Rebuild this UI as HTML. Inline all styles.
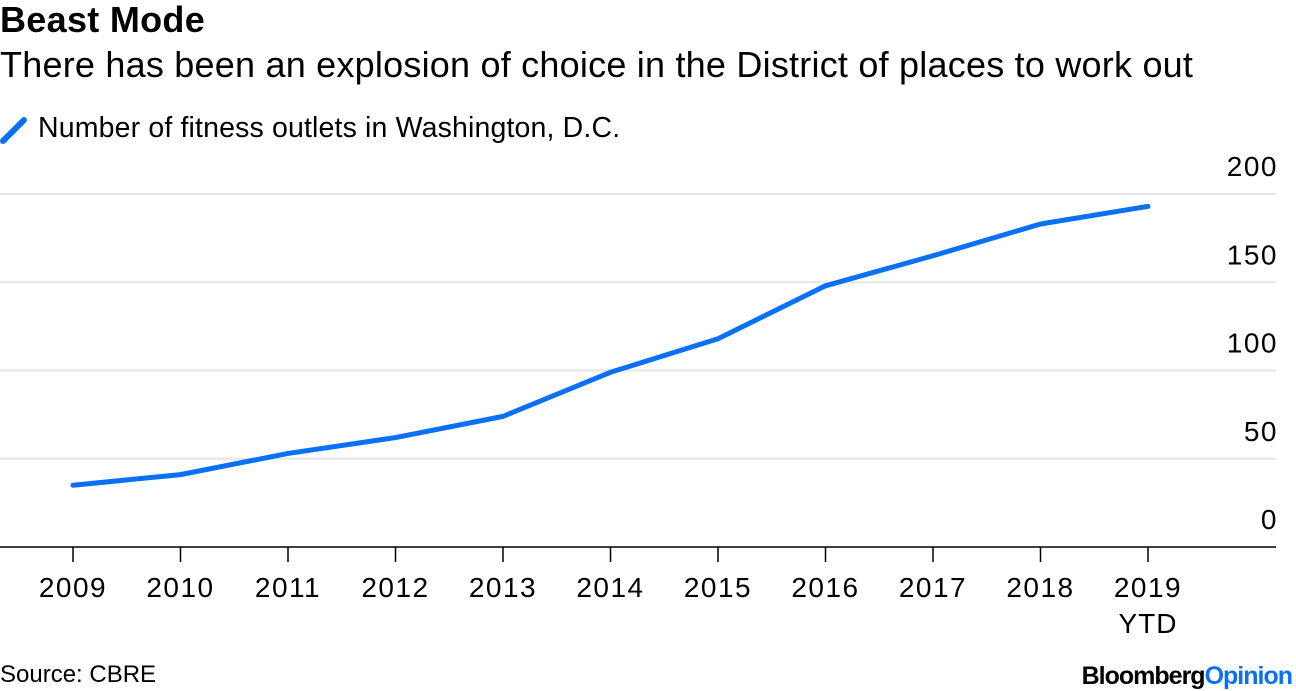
<!DOCTYPE html>
<html><head><meta charset="utf-8"><style>
body{margin:0;width:1296px;height:690px;background:#fff;font-family:"Liberation Sans",sans-serif;overflow:hidden;position:relative}
.t{position:absolute;white-space:nowrap;color:#000}
</style></head><body>
<div class="t" style="left:0;top:-1px;font-size:36px;font-weight:bold;letter-spacing:0.3px">Beast Mode</div>
<div class="t" style="left:0;top:44px;font-size:36px;letter-spacing:0.22px">There has been an explosion of choice in the District of places to work out</div>
<div class="t" style="left:0;top:112px;font-size:28.5px;letter-spacing:0.15px">
<svg width="30" height="30" style="position:absolute;left:0;top:3px"><line x1="3" y1="26" x2="24" y2="5" stroke="#0a70f5" stroke-width="6" stroke-linecap="round"/></svg>
<span style="margin-left:38px">Number of fitness outlets in Washington, D.C.</span></div>
<svg id="c" width="1296" height="690" style="position:absolute;left:0;top:0"></svg>
<div class="t" style="left:0;top:661px;font-size:24px">Source: CBRE</div>
<div class="t" style="right:4px;top:662px;font-size:25px;font-weight:bold;letter-spacing:-1px">Bloomberg<span style="color:#0a70f5">Opinion</span></div>
<script>
const categories=["2009","2010","2011","2012","2013","2014","2015","2016","2017","2018","2019"];
const values=[35,41,53,62,74,99,118,148,165,183,193];
const yTicks=[0,50,100,150,200];
const ns="http://www.w3.org/2000/svg",svg=document.getElementById('c');
const x=i=>73+i*107.5, y=v=>547-v*1.765;
function mk(t,a){const e=document.createElementNS(ns,t);for(const k in a)e.setAttribute(k,a[k]);svg.appendChild(e);return e;}
yTicks.forEach(v=>{
 if(v>0){const g=mk('line',{x1:0,x2:1276,y1:y(v),y2:y(v),stroke:'#e6e6e6','stroke-width':2});
 
 }
 const t=mk('text',{x:1278,y:y(v)-18,'text-anchor':'end','font-size':28,'letter-spacing':1.5,fill:'#000'});t.textContent=v;
 
 
});
const ax=mk('line',{x1:0,x2:1276,y1:547,y2:547,stroke:'#000','stroke-width':1.5});


categories.forEach((c,i)=>{
 const k=mk('line',{x1:x(i),x2:x(i),y1:547,y2:562,stroke:'#000','stroke-width':1.5});
 
 
 const t=mk('text',{x:x(i),y:597,'text-anchor':'middle','font-size':28,'letter-spacing':1.5,fill:'#000'});t.textContent=c;
 
 
});
const ytd=mk('text',{x:x(10),y:633,'text-anchor':'middle','font-size':28,'letter-spacing':1,fill:'#000'});ytd.textContent='YTD';


const p=mk('polyline',{points:values.map((v,i)=>x(i)+','+y(v)).join(' '),fill:'none',stroke:'#0a70f5','stroke-width':5,'stroke-linecap':'round','stroke-linejoin':'round'});


</script>
</body></html>
